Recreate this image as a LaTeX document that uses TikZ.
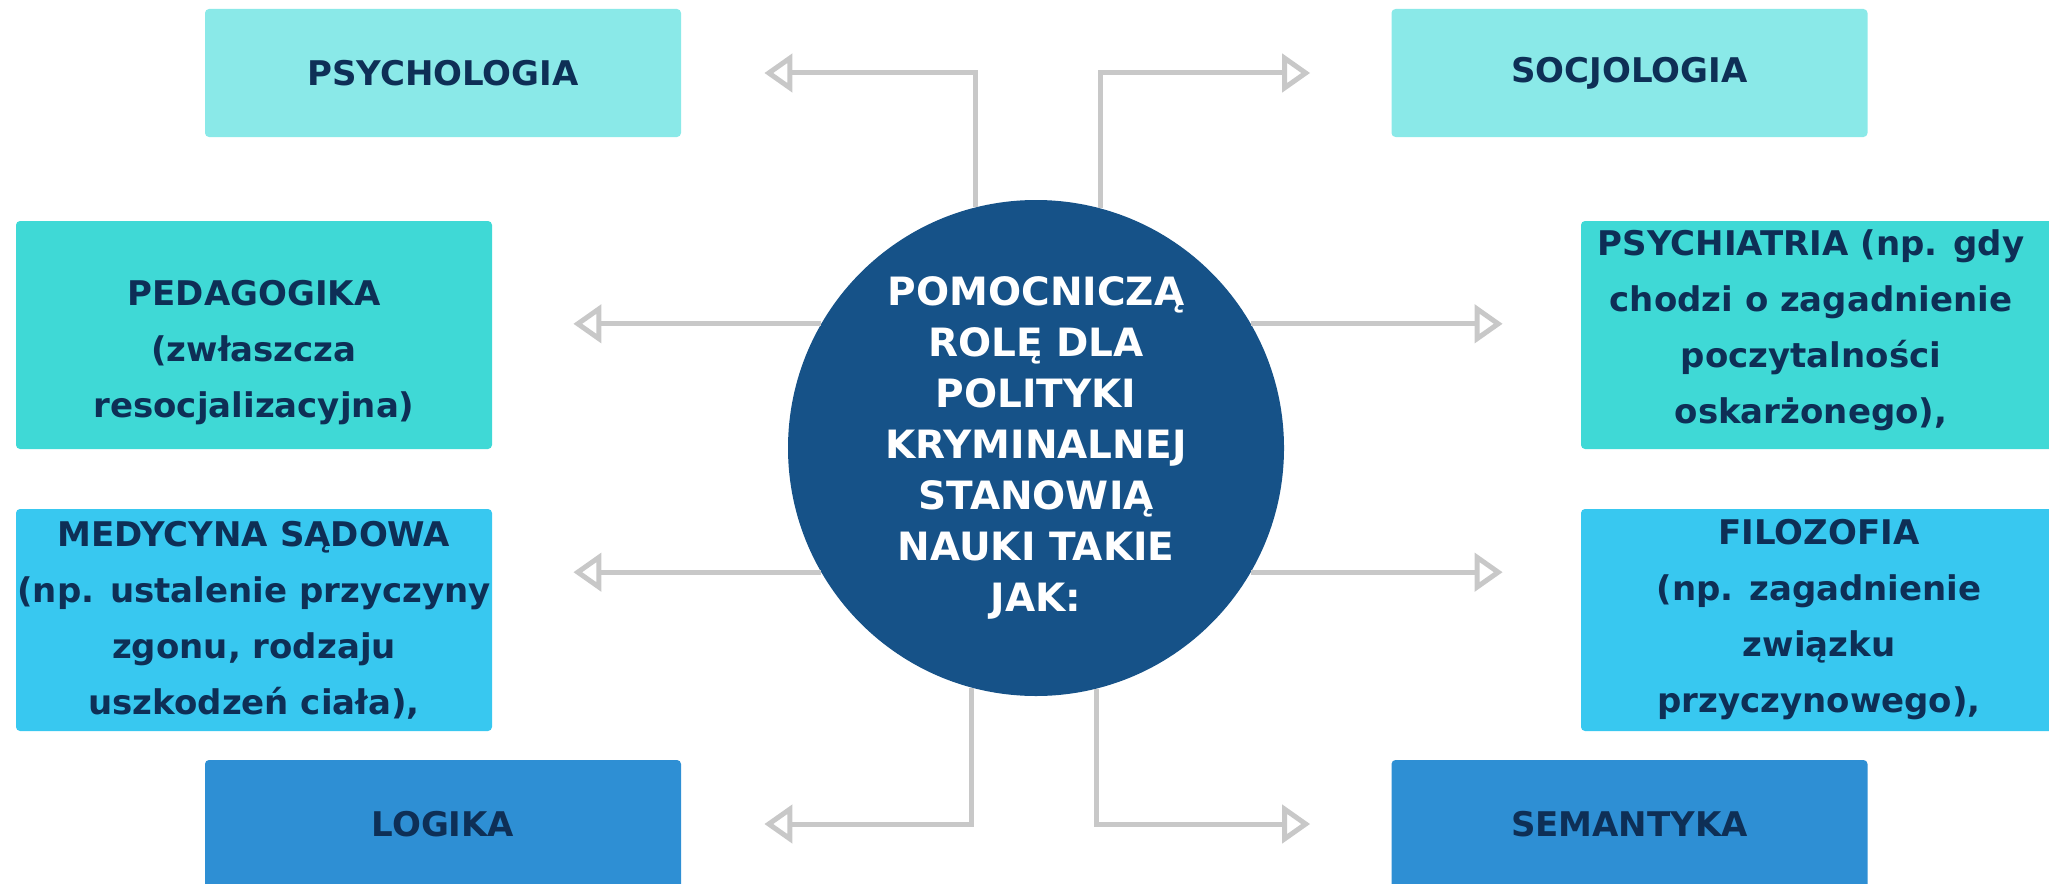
\documentclass[tikz,border=0pt]{standalone}
\usepackage{fontspec}
\setmainfont{DejaVu Sans}
\usetikzlibrary{arrows.meta}
\definecolor{navytext}{HTML}{0E2F56}
\definecolor{paleteal}{HTML}{8AE9E8}
\definecolor{midteal}{HTML}{3FD9D6}
\definecolor{skyblue}{HTML}{38C8F0}
\definecolor{deepblue}{HTML}{2E8FD4}
\definecolor{circblue}{HTML}{165288}
\definecolor{linegray}{HTML}{C8C8C8}
\tikzstyle{boxtext}=[text=navytext, align=center, inner sep=0pt, font=\bfseries\fontsize{17}{28}\selectfont]
\tikzstyle{boxnode}=[boxtext, rectangle, rounded corners=2pt, minimum width=238pt]
\tikzstyle{circlenode}=[circle, fill=circblue, minimum size=248pt, inner sep=0pt, text=white, align=center, font=\bfseries\fontsize{19.5}{25.5}\selectfont]
\tikzstyle{arrowline}=[draw=linegray, line width=2.5pt, -{Triangle[open, length=14pt, width=19pt]}, shorten >=40.5pt]

\begin{document}
\begin{tikzpicture}[x=0.5pt, y=-0.5pt]
\useasboundingbox (0,0) rectangle (2049,883);
\clip (0,0) rectangle (2049,883);
\node[circlenode] (circ) at (1036,448) {POMOCNICZĄ\\ROLĘ DLA\\POLITYKI\\KRYMINALNEJ\\STANOWIĄ\\NAUKI TAKIE\\JAK:};
% top row
\node[boxnode, fill=paleteal, minimum height=64pt] (psych) at (443,73) {PSYCHOLOGIA};
\node[boxnode, fill=paleteal, minimum height=64pt] (socj) at (1629.5,73) {SOCJOLOGIA};
% middle rows
\node[boxnode, fill=midteal, minimum height=114pt,
  label={[boxtext, yshift=-9pt]center:{PEDAGOGIKA\\(zwłaszcza\\resocjalizacyjna)}}] (pedag) at (254,335) {};
\node[boxnode, fill=midteal, minimum height=114pt,
  label={[boxtext, xshift=-4pt, yshift=2.5pt]center:{PSYCHIATRIA (np. gdy\\chodzi o zagadnienie\\poczytalności\\oskarżonego),}}] (psychiat) at (1819,335) {};
\node[boxnode, fill=skyblue, minimum height=111pt] (medyc) at (254,620) {MEDYCYNA SĄDOWA\\(np. ustalenie przyczyny\\zgonu, rodzaju\\uszkodzeń ciała),};
\node[boxnode, fill=skyblue, minimum height=111pt] (filoz) at (1819,620) {FILOZOFIA\\(np. zagadnienie\\związku\\przyczynowego),};
% bottom row
\node[boxnode, fill=deepblue, minimum height=64pt] (logika) at (443,824) {LOGIKA};
\node[boxnode, fill=deepblue, minimum height=64pt] (semant) at (1629.5,824) {SEMANTYKA};
% connectors
\draw[arrowline, shorten >=41.5pt] (circ.104.5) |- (psych.east);
\draw[arrowline] (circ.75.5) |- (socj.west);
\draw[arrowline] (circ.150) -- (circ.150 -| pedag.east);
\draw[arrowline, shorten >=39pt] (circ.30) -- (circ.30 -| psychiat.west);
\draw[arrowline] (circ.210) -- (circ.210 -| medyc.east);
\draw[arrowline, shorten >=39pt] (circ.330) -- (circ.330 -| filoz.west);
\draw[arrowline, shorten >=41.5pt] (circ.255.5) |- (logika.east);
\draw[arrowline] (circ.284.5) |- (semant.west);
\end{tikzpicture}
\end{document}
